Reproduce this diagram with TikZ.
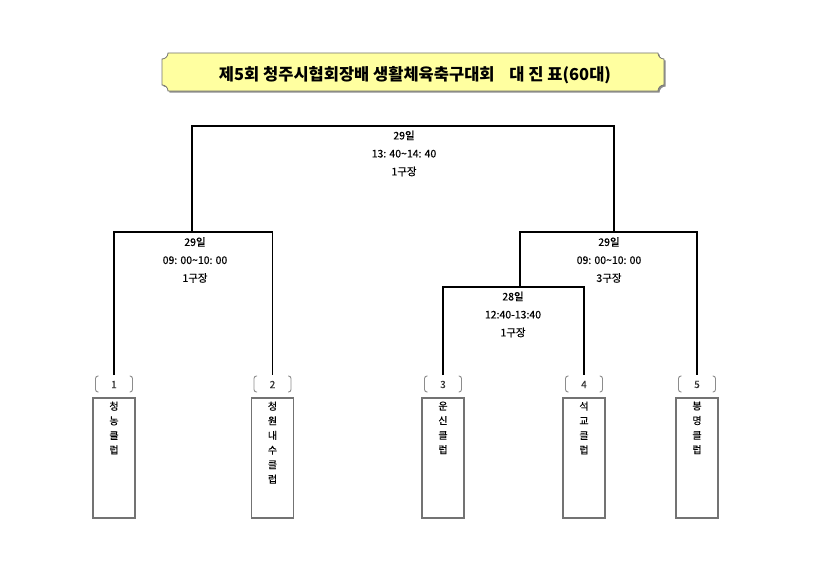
\documentclass[tikz,border=0pt]{standalone}
\usepackage{fontspec}
\setmainfont{Noto Sans CJK KR}
\newfontfamily\krthick{Noto Sans CJK KR}[FakeBold=0.5]
\usetikzlibrary{calc}
\definecolor{titlefill}{RGB}{255,255,160}
\begin{document}
\begin{tikzpicture}[x=1pt,y=-1pt,
  bracket/.style={line width=1.6pt, line join=miter},
  teambox/.style={draw=black!55, line width=1.1pt, minimum width=42pt, minimum height=120pt, inner sep=0pt},
  teamtxt/.style={font=\krthick\fontsize{10}{14.6}\selectfont, align=center, anchor=north, inner sep=0pt},
  numtxt/.style={font=\krthick\fontsize{10}{11}\selectfont, text=black!80, inner sep=0pt},
  matchtxt/.style={font=\krthick\fontsize{10.5}{18}\selectfont, align=center, inner sep=0pt},
  paren/.style={draw=black!45, line width=0.9pt, rounded corners=2.5pt}
]
\useasboundingbox (0,0) rectangle (835,586);

% title plaque
\begin{scope}[shift={(1.5,1.5)}]
\fill[black!45] (168,53) -- (658,53) .. controls (658,56.3) and (660.7,59) .. (664,59) -- (664,85) .. controls (660.7,85) and (658,87.7) .. (658,91) -- (168,91) .. controls (168,87.7) and (165.3,85) .. (162,85) -- (162,59) .. controls (165.3,59) and (168,56.3) .. (168,53) -- cycle;
\end{scope}
\draw[black!55, line width=0.8pt, fill=titlefill] (168,53) -- (658,53) .. controls (658,56.3) and (660.7,59) .. (664,59) -- (664,85) .. controls (660.7,85) and (658,87.7) .. (658,91) -- (168,91) .. controls (168,87.7) and (165.3,85) .. (162,85) -- (162,59) .. controls (165.3,59) and (168,56.3) .. (168,53) -- cycle;
\node[font=\fontsize{16.5}{16.5}\selectfont\bfseries, inner sep=0pt] (title) at (415,75) {제5회 청주시협회장배 생활체육축구대회\hspace{0.9em}대 진 표(60대)};

% team boxes
\node[teambox] (t1) at (114,458) {};
\node[teambox] (t2) at (272.5,458) {};
\node[teambox] (t3) at (443,458) {};
\node[teambox] (t4) at (584,458) {};
\node[teambox] (t5) at (697,458) {};
\node[teamtxt] (l1) at ($(t1.north)+(0,4)$) {청\\농\\클\\럽};
\node[teamtxt] (l2) at ($(t2.north)+(0,4)$) {청\\원\\내\\수\\클\\럽};
\node[teamtxt] (l3) at ($(t3.north)+(0,4)$) {운\\신\\클\\럽};
\node[teamtxt] (l4) at ($(t4.north)+(0,4)$) {석\\교\\클\\럽};
\node[teamtxt] (l5) at ($(t5.north)+(0,4)$) {봉\\명\\클\\럽};

% numbers with brackets
\foreach \i/\x in {1/114,2/272.5,3/443,4/584,5/697}{
  \node[numtxt] (n\i) at (\x,384.5) {\i};
  \draw[paren] (\x-15.5,376) -- (\x-18.5,376) -- (\x-18.5,392) -- (\x-15.5,392);
  \draw[paren] (\x+15.5,376) -- (\x+18.5,376) -- (\x+18.5,392) -- (\x+15.5,392);
  \coordinate (e\i) at (\x,375);
}

% junctions
\coordinate (jL) at (192,232);
\coordinate (jS) at (520,287);
\coordinate (jR) at (614,232);
\coordinate (jT) at (403,126);

% brackets
\draw[bracket] (e1) |- (jL) -| (e2);
\draw[bracket] (e3) |- (jS) -| (e4);
\draw[bracket] (jS) |- (jR) -| (e5);
\draw[bracket] (jL) |- (jT) -| (jR);

% match labels
\node[matchtxt] (mT) at (404,153.5) {29일\\13: 40\textasciitilde14: 40\\1구장};
\node[matchtxt] (mL) at (195,260) {29일\\09: 00\textasciitilde10: 00\\1구장};
\node[matchtxt] (mR) at (609,260) {29일\\09: 00\textasciitilde10: 00\\3구장};
\node[matchtxt] (mS) at (513,314.5) {28일\\12:40-13:40\\1구장};
\end{tikzpicture}
\end{document}
